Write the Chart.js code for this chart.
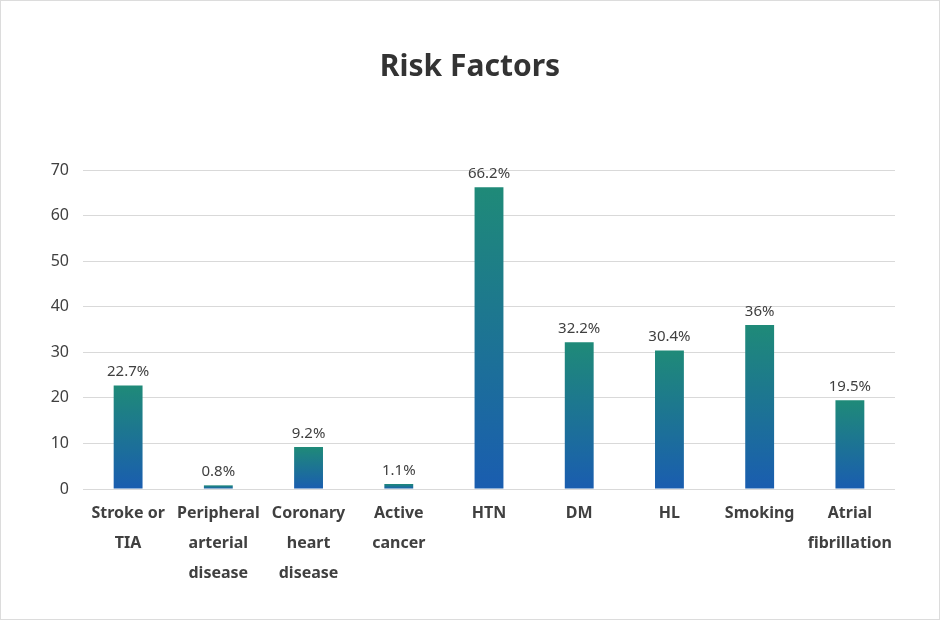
<!DOCTYPE html>
<html>
<head>
<meta charset="utf-8">
<script src="https://cdn.jsdelivr.net/npm/chart.js@4.4.1/dist/chart.umd.min.js"></script>
<style>
  html, body { margin: 0; padding: 0; background: #fff; }
  #wrap { position: relative; width: 938px; height: 618px; border: 1px solid #dcdcdc; }
</style>
</head>
<body>
<div id="wrap"><canvas id="riskChart"></canvas></div>
<script>
// Risk factors — share of patients (%)
const categories = [
  ['Stroke or', 'TIA'],
  ['Peripheral', 'arterial', 'disease'],
  ['Coronary', 'heart', 'disease'],
  ['Active', 'cancer'],
  'HTN',
  'DM',
  'HL',
  'Smoking',
  ['Atrial', 'fibrillation'],
];
const values = [22.7, 0.8, 9.2, 1.1, 66.2, 32.2, 30.4, 36, 19.5];
const valueLabels = ['22.7%', '0.8%', '9.2%', '1.1%', '66.2%', '32.2%', '30.4%', '36%', '19.5%'];
const yTicks = [0, 10, 20, 30, 40, 50, 60, 70];

const FONT = '"Noto Sans", "Open Sans", sans-serif';

// gradient per bar: teal at the top, blue at the base
function barGradient(ctx) {
  const chart = ctx.chart;
  if (!chart.chartArea) return '#1d7f93';
  const y = chart.scales.y;
  const top = y.getPixelForValue(values[ctx.dataIndex]);
  const base = y.getPixelForValue(0);
  if (!isFinite(top) || Math.abs(base - top) < 1) return '#1a5fb0';
  const g = chart.ctx.createLinearGradient(0, top, 0, base);
  g.addColorStop(0, '#1f8a78');
  g.addColorStop(1, '#1a5db0');
  return g;
}

// value labels above each bar
const barValues = {
  id: 'barValues',
  afterDatasetsDraw(chart) {
    const { ctx } = chart;
    const meta = chart.getDatasetMeta(0);
    ctx.save();
    ctx.font = '15px ' + FONT;
    ctx.fillStyle = '#404040';
    ctx.textAlign = 'center';
    ctx.textBaseline = 'bottom';
    meta.data.forEach((bar, i) => {
      ctx.fillText(valueLabels[i], bar.x, bar.y - 6);
    });
    ctx.restore();
  }
};

new Chart(document.getElementById('riskChart'), {
  type: 'bar',
  data: {
    labels: categories,
    datasets: [{
      data: values,
      backgroundColor: barGradient,
      borderWidth: 0,
      barPercentage: 0.32,
      categoryPercentage: 1,
    }]
  },
  options: {
    responsive: true,
    maintainAspectRatio: false,
    animation: false,
    layout: { padding: { left: 44, right: 44, top: 0, bottom: 0 } },
    plugins: {
      legend: { display: false },
      tooltip: { enabled: false },
      title: {
        display: true,
        text: 'Risk Factors',
        color: '#333333',
        font: { family: FONT, size: 30, weight: 'bold', lineHeight: 1.2 },
        padding: { top: 48, bottom: 85 },
      }
    },
    scales: {
      x: {
        grid: { display: false },
        border: { display: false },
        ticks: {
          color: '#404040',
          font: { family: FONT, size: 16, weight: 'bold', lineHeight: 1.85 },
          padding: 2,
          maxRotation: 0,
          autoSkip: false,
        },
        afterFit: s => { s.height = 130; }
      },
      y: {
        min: 0,
        max: 70,
        afterBuildTicks: s => { s.ticks = yTicks.map(v => ({ value: v })); },
        grid: { color: '#d9d9d9', drawTicks: false },
        border: { display: false },
        ticks: {
          color: '#404040',
          font: { family: FONT, size: 16 },
          padding: 14,
        },
        afterFit: s => { s.width = 38; }
      }
    }
  },
  plugins: [barValues]
});
</script>
</body>
</html>
